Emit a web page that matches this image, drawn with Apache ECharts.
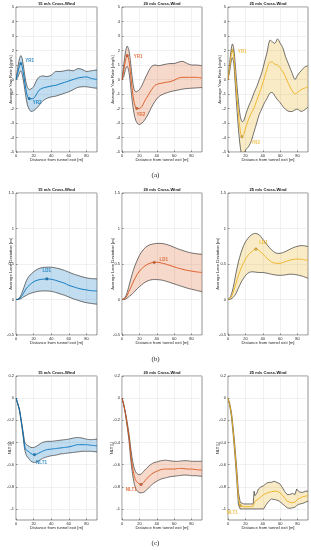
<!DOCTYPE html>
<html><head><meta charset="utf-8">
<script src="https://cdn.jsdelivr.net/npm/echarts@6/dist/echarts.min.js"></script>
<style>html,body{margin:0;padding:0;background:#fff}#c{width:311px;height:550px}</style>
</head><body><div id="c"></div>
<script>
// ---------- text / ticks ----------
const titles = ['15 m/s Cross-Wind', '20 m/s Cross-Wind', '25 m/s Cross-Wind'];
const rowNames = ['Average Yaw Rate [deg/s]', 'Average Lane Deviation [m]', 'NLT [-]'];
const rowLetters = ['(a)', '(b)', '(c)'];
const xName = 'Distance from tunnel exit [m]';
const xTicks = [0, 20, 40, 60, 80];
const yTicksA = [-5, -4, -3, -2, -1, 0, 1, 2, 3, 4, 5];
const yTicksB = [-0.5, 0, 0.5, 1, 1.5];
const yTicksC = [-1, -0.8, -0.6, -0.4, -0.2, 0, 0.2];

// ---------- row (a): yaw rate ----------
const a1X = [0,2,4,5.5,7,9,11,13,15,17,20,23,26,30,35,40,45,50,55,60,65,70,75,80,85,92];
const a1Mean = [0,0.45,0.95,1.1,0.9,0.2,-0.6,-1.15,-1.32,-1.33,-1.3,-1.05,-0.75,-0.6,-0.52,-0.45,-0.4,-0.3,-0.2,-0.1,0.0,0.1,0.15,0.18,0.08,0.0];
const a1Up = [0,0.8,1.45,1.65,1.45,0.7,-0.1,-0.55,-0.7,-0.65,-0.5,-0.1,0.15,0.25,0.2,0.3,0.55,0.55,0.6,0.65,0.6,0.75,0.7,0.55,0.6,0.65];
const a1Lo = [0,0.15,0.45,0.6,0.35,-0.3,-1.1,-1.75,-2.05,-2.2,-2.15,-2.0,-1.8,-1.5,-1.3,-1.2,-1.15,-1.05,-0.95,-0.85,-0.7,-0.55,-0.5,-0.5,-0.55,-0.6];
const a1Marks = [[5.5,1.1],[15,-1.32]];

const a2X = [0,2,4,6,8,10,12,14,16,18,20,23,26,30,34,38,42,46,50,55,60,65,70,75,80,85,92];
const a2Mean = [0,0.6,1.35,1.65,1.3,0.3,-0.8,-1.6,-1.95,-2.0,-2.0,-1.85,-1.5,-1.1,-0.7,-0.4,-0.3,-0.25,-0.2,-0.15,-0.05,0.1,0.15,0.15,0.15,0.15,0.1];
const a2Up = [0,1.0,1.9,2.3,2.0,1.1,0.0,-0.7,-0.85,-0.8,-0.7,-0.4,0.0,0.5,0.9,1.0,0.95,1.0,1.05,1.1,1.1,1.2,1.25,1.1,1.0,1.0,0.95];
const a2Lo = [0,0.2,0.7,0.9,0.5,-0.5,-1.6,-2.4,-2.85,-3.05,-3.1,-3.0,-2.8,-2.4,-1.9,-1.5,-1.2,-1.05,-0.95,-0.85,-0.78,-0.72,-0.66,-0.62,-0.6,-0.58,-0.55];
const a2Marks = [[6,1.65],[17,-2.0]];

const a3X = [0,2,3.5,5,6.5,8,10,12,14,16,18,21,24,27,30,33,36,39,42,45,48,51,54,57,60,63,66,70,74,77,80,84,88,92];
const a3Mean = [0,0.9,1.6,2.0,1.7,0.6,-1.0,-2.4,-3.5,-3.95,-3.8,-3.2,-2.7,-2.3,-1.95,-1.45,-0.95,-0.45,0.15,0.75,1.2,1.2,1.05,1.0,0.8,0.55,0.2,-0.35,-0.8,-1.0,-0.9,-0.7,-0.6,-0.5];
const a3Up = [0,1.2,2.0,2.45,2.2,1.3,-0.2,-1.5,-2.5,-2.9,-2.85,-2.3,-1.8,-1.4,-0.9,-0.5,0.0,0.5,1.2,1.9,2.7,2.6,2.5,2.8,2.5,2.2,1.6,1.0,0.4,0.0,0.3,0.6,0.85,0.95];
const a3Lo = [0,0.6,1.2,1.5,1.2,0.0,-1.8,-3.4,-4.6,-5.2,-5.1,-4.8,-4.6,-4.2,-3.6,-3.0,-2.4,-2.0,-1.6,-1.3,-0.95,-0.9,-1.15,-1.4,-1.6,-1.85,-2.05,-2.2,-2.2,-2.1,-2.05,-2.2,-2.1,-1.9];
const a3Marks = [[5,2.0],[16,-3.95]];
const aMarkNames = ['YR1', 'YR2'];

// ---------- row (b): lane deviation ----------
const bX = [0,3,6,9,12,15,20,25,30,35,40,45,50,55,60,65,70,75,80,85,92];
const b1Mean = [0,0.005,0.04,0.1,0.16,0.2,0.25,0.275,0.285,0.29,0.285,0.27,0.25,0.23,0.2,0.18,0.16,0.145,0.135,0.125,0.12];
const b1Up = [0,0.01,0.07,0.17,0.27,0.33,0.39,0.43,0.45,0.455,0.455,0.445,0.43,0.41,0.385,0.36,0.34,0.32,0.305,0.295,0.29];
const b1Lo = [0,0,0.015,0.04,0.06,0.08,0.1,0.115,0.12,0.12,0.115,0.1,0.08,0.06,0.035,0.01,-0.01,-0.03,-0.045,-0.055,-0.065];
const b1Marks = [[35,0.29]];

const b2Mean = [0,0.01,0.06,0.14,0.22,0.3,0.4,0.46,0.5,0.52,0.525,0.515,0.5,0.48,0.46,0.44,0.425,0.41,0.4,0.39,0.38];
const b2Up = [0,0.02,0.1,0.24,0.37,0.48,0.62,0.71,0.76,0.78,0.79,0.79,0.78,0.76,0.735,0.71,0.69,0.67,0.655,0.645,0.635];
const b2Lo = [0,0,0.02,0.05,0.08,0.12,0.18,0.23,0.265,0.28,0.28,0.275,0.26,0.24,0.22,0.2,0.18,0.16,0.145,0.13,0.11];
const b2Marks = [[37,0.522]];

const b3X = [0,3,6,9,12,15,18,21,25,29,32,36,40,45,50,55,60,65,70,75,80,85,92];
const b3Mean = [0,0.02,0.1,0.22,0.34,0.44,0.52,0.59,0.65,0.69,0.71,0.69,0.64,0.58,0.53,0.51,0.51,0.53,0.55,0.565,0.57,0.565,0.55];
const b3Up = [0,0.04,0.17,0.36,0.53,0.66,0.76,0.83,0.89,0.925,0.93,0.91,0.85,0.77,0.7,0.655,0.65,0.67,0.7,0.73,0.75,0.76,0.745];
const b3Lo = [0,0.005,0.03,0.08,0.16,0.24,0.3,0.35,0.385,0.39,0.385,0.38,0.38,0.37,0.355,0.345,0.34,0.345,0.355,0.355,0.345,0.33,0.3];
const b3Marks = [[32,0.71]];
const bMarkNames = ['LD1'];

// ---------- row (c): NLT ----------
const c1X = [0,2,4,6,8,10,12,14,17,20,22,25,30,35,40,45,50,55,60,65,70,75,80,85,92];
const c1Mean = [0,-0.05,-0.11,-0.21,-0.32,-0.44,-0.47,-0.48,-0.5,-0.51,-0.51,-0.5,-0.48,-0.465,-0.46,-0.455,-0.45,-0.445,-0.44,-0.43,-0.42,-0.42,-0.42,-0.425,-0.43];
const c1Up = [0,-0.05,-0.1,-0.2,-0.3,-0.4,-0.42,-0.43,-0.445,-0.445,-0.44,-0.425,-0.4,-0.39,-0.39,-0.385,-0.38,-0.375,-0.37,-0.36,-0.355,-0.36,-0.37,-0.375,-0.37];
const c1Lo = [0,-0.05,-0.12,-0.22,-0.34,-0.47,-0.52,-0.54,-0.57,-0.58,-0.58,-0.57,-0.545,-0.53,-0.52,-0.515,-0.505,-0.5,-0.495,-0.49,-0.485,-0.48,-0.48,-0.48,-0.485];
const c1Marks = [[21,-0.51]];

const c2X = [0,2,4,6,8,10,12,14,16,19,22,25,28,32,36,40,45,50,55,60,65,70,75,80,85,92];
const c2Mean = [0,-0.06,-0.14,-0.24,-0.35,-0.5,-0.62,-0.7,-0.745,-0.77,-0.78,-0.76,-0.73,-0.7,-0.675,-0.66,-0.645,-0.64,-0.64,-0.64,-0.635,-0.635,-0.64,-0.64,-0.645,-0.65];
const c2Up = [0,-0.06,-0.13,-0.22,-0.32,-0.45,-0.56,-0.63,-0.67,-0.69,-0.685,-0.66,-0.635,-0.605,-0.585,-0.575,-0.565,-0.56,-0.565,-0.57,-0.57,-0.565,-0.565,-0.57,-0.57,-0.57];
const c2Lo = [0,-0.06,-0.15,-0.26,-0.38,-0.55,-0.68,-0.77,-0.82,-0.85,-0.855,-0.85,-0.83,-0.8,-0.77,-0.75,-0.73,-0.72,-0.71,-0.705,-0.7,-0.695,-0.695,-0.7,-0.7,-0.705];
const c2Marks = [[22,-0.78]];

const c3X = [0,2,4,6,8,10,12,14,18,22,26,29,30,31,33,35,38,41,44,47,50,53,56,59,62,65,68,71,74,77,79,81,83,86,89,92];
const c3Mean = [0,-0.06,-0.15,-0.3,-0.48,-0.68,-0.9,-0.97,-0.98,-0.98,-0.98,-0.975,-0.95,-0.93,-0.92,-0.91,-0.89,-0.87,-0.86,-0.85,-0.845,-0.84,-0.84,-0.85,-0.87,-0.9,-0.93,-0.94,-0.945,-0.94,-0.92,-0.905,-0.9,-0.89,-0.885,-0.88];
const c3Up = [0,-0.05,-0.13,-0.27,-0.44,-0.63,-0.85,-0.94,-0.955,-0.955,-0.955,-0.955,-0.84,-0.88,-0.86,-0.82,-0.8,-0.79,-0.77,-0.76,-0.76,-0.75,-0.76,-0.77,-0.8,-0.84,-0.87,-0.87,-0.86,-0.87,-0.82,-0.84,-0.85,-0.85,-0.84,-0.84];
const c3Lo = [0,-0.07,-0.17,-0.33,-0.52,-0.73,-0.96,-1.0,-1.0,-1.0,-1.0,-1.0,-1.0,-1.0,-1.0,-1.0,-1.0,-1.0,-0.96,-0.93,-0.91,-0.915,-0.92,-0.93,-0.95,-0.97,-0.99,-0.995,-0.99,-0.985,-0.97,-0.96,-0.955,-0.95,-0.94,-0.93];
const c3Marks = [[14,-0.97]];
const cMarkNames = ['NLT1'];

// ---------- layout / style ----------
const FONT = 'Liberation Sans, Arial, sans-serif';
const TXT = '#262626';
const colLeft = [16, 122, 228], colW = [81, 80, 80];
const rowTop = [7, 193, 376], rowH = [145, 142, 144];
const yRange = [[-5, 5], [-0.5, 1.5], [-1.1, 0.2]];
const yTicks = [yTicksA, yTicksB, yTicksC];
const yNameGap = [[3, 7, 6], [3, 7, 8], [4, 8, 8]];
const lineColors = ['#0072BD', '#D95319', '#EDB120'];
const fillColors = ['rgba(0,114,189,0.24)', 'rgba(217,83,25,0.22)', 'rgba(237,177,32,0.25)'];
const xMax = 92;

const panels = [
  {x:a1X, m:a1Mean, u:a1Up, l:a1Lo, mk:a1Marks, names:aMarkNames, sm:0.3},
  {x:a2X, m:a2Mean, u:a2Up, l:a2Lo, mk:a2Marks, names:aMarkNames, sm:0.3},
  {x:a3X, m:a3Mean, u:a3Up, l:a3Lo, mk:a3Marks, names:aMarkNames, sm:0.3},
  {x:bX, m:b1Mean, u:b1Up, l:b1Lo, mk:b1Marks, names:bMarkNames, sm:0.3},
  {x:bX, m:b2Mean, u:b2Up, l:b2Lo, mk:b2Marks, names:bMarkNames, sm:0.3},
  {x:b3X, m:b3Mean, u:b3Up, l:b3Lo, mk:b3Marks, names:bMarkNames, sm:0.3},
  {x:c1X, m:c1Mean, u:c1Up, l:c1Lo, mk:c1Marks, names:cMarkNames, sm:0.2},
  {x:c2X, m:c2Mean, u:c2Up, l:c2Lo, mk:c2Marks, names:cMarkNames, sm:0.2},
  {x:c3X, m:c3Mean, u:c3Up, l:c3Lo, mk:c3Marks, names:cMarkNames, sm:0}
];
// label placement for marker annotations [position, distance, offset]
const markLabelStyle = [
  [['right',3,[0,-3]], ['right',2,[0,4]]],
  [['right',5,[0,1]], ['bottom',2,[4,0]]],
  [['right',4,[0,1]], ['right',8,[0,6]]],
  [['top',4,[0,0]]],
  [['right',4,[0,-3]]],
  [['right',2,[0,-6]]],
  [['bottom',2,[7,2]]],
  [['left',3,[0,5]]],
  [['left',1,[0,7]]]
];

const grids = [], xAxes = [], yAxes = [], series = [], graphics = [];

function bandSeries(i, p, fill) {
  return {
    type: 'custom', xAxisIndex: i, yAxisIndex: i, silent: true, z: 2,
    data: [[p.x[0], p.u[0]]],
    renderItem: function (params, api) {
      const top = p.x.map((x, k) => api.coord([x, p.u[k]]));
      const bot = p.x.map((x, k) => api.coord([x, p.l[k]]));
      const botRev = bot.slice().reverse();
      if (p.u[0] === p.l[0]) botRev.pop();
      const cs = params.coordSys;
      const smooth = p.sm;
      return {
        type: 'group',
        clipPath: { type: 'rect', shape: { x: cs.x, y: cs.y, width: cs.width, height: cs.height } },
        children: [
          { type: 'polygon', shape: { points: top.concat(botRev), smooth: smooth }, style: { fill: fill, stroke: null } },
          { type: 'polyline', shape: { points: top, smooth: smooth }, style: { stroke: '#383838', lineWidth: 0.7, fill: null } },
          { type: 'polyline', shape: { points: bot, smooth: smooth }, style: { stroke: '#383838', lineWidth: 0.7, fill: null } }
        ]
      };
    }
  };
}

for (let r = 0; r < 3; r++) {
  for (let c = 0; c < 3; c++) {
    const i = r * 3 + c;
    const p = panels[i];
    grids.push({ left: colLeft[c], top: rowTop[r], width: colW[c], height: rowH[r], show: true,
      borderColor: TXT, borderWidth: 0.5, backgroundColor: 'transparent', containLabel: false, outerBoundsMode: 'none' });
    xAxes.push({
      type: 'value', gridIndex: i, min: 0, max: xMax,
      name: xName, nameLocation: 'middle', nameGap: 6, nameMoveOverlap: false,
      nameTextStyle: { fontSize: 4.2, color: TXT, fontFamily: FONT },
      axisLine: { show: false, onZero: false },
      axisTick: { show: true, inside: true, length: 1.5, customValues: xTicks, lineStyle: { color: TXT, width: 0.5 } },
      axisLabel: { customValues: xTicks, fontSize: 4, color: TXT, margin: 2, fontFamily: FONT },
      splitLine: { show: true, lineStyle: { color: '#e2e2e2', width: 0.5 } }
    });
    yAxes.push({
      type: 'value', gridIndex: i, min: yRange[r][0], max: yRange[r][1],
      name: rowNames[r], nameLocation: 'middle', nameGap: yNameGap[r][c], nameRotate: 90, nameMoveOverlap: false,
      nameTextStyle: { fontSize: 4.2, color: TXT, fontFamily: FONT },
      axisLine: { show: false, onZero: false },
      axisTick: { show: true, inside: true, length: 1.5, customValues: yTicks[r], lineStyle: { color: TXT, width: 0.5 } },
      axisLabel: { customValues: yTicks[r], fontSize: 4, color: TXT, margin: 2, fontFamily: FONT },
      splitLine: { show: true, lineStyle: { color: '#e2e2e2', width: 0.5 } }
    });
    series.push(bandSeries(i, p, fillColors[c]));
    series.push({
      type: 'line', xAxisIndex: i, yAxisIndex: i, z: 3, silent: true,
      data: p.x.map((x, k) => [x, p.m[k]]),
      smooth: p.sm, showSymbol: false, clip: true,
      lineStyle: { color: lineColors[c], width: 0.9 }
    });
    series.push({
      type: 'scatter', xAxisIndex: i, yAxisIndex: i, z: 4, silent: true,
      symbolSize: 2.6,
      itemStyle: { color: lineColors[c], borderColor: '#333', borderWidth: 0.3 },
      data: p.mk.map((v, k) => ({
        value: v, name: p.names[k],
        label: { show: true, formatter: '{b}', position: markLabelStyle[i][k][0], distance: markLabelStyle[i][k][1],
          offset: markLabelStyle[i][k][2], color: lineColors[c], fontSize: 4.5, fontWeight: 'bold', fontFamily: FONT }
      }))
    });
    graphics.push({
      type: 'text', x: colLeft[c] + colW[c] / 2, y: rowTop[r] - 3.5, silent: true,
      style: { text: titles[c], fill: '#111', fontSize: 4.1, fontWeight: 'bold', fontFamily: FONT,
        align: 'center', verticalAlign: 'middle' }
    });
  }
}
const letterY = [175, 359, 543];
for (let r = 0; r < 3; r++) {
  graphics.push({
    type: 'text', x: 155.5, y: letterY[r], silent: true,
    style: { text: rowLetters[r], fill: '#222', fontSize: 7, fontFamily: 'Liberation Serif, serif',
      align: 'center', verticalAlign: 'middle' }
  });
}

const chart = echarts.init(document.getElementById('c'), null, { renderer: 'canvas', width: 311, height: 550 });
chart.setOption({
  animation: false,
  backgroundColor: '#ffffff',
  grid: grids, xAxis: xAxes, yAxis: yAxes, series: series, graphic: graphics
});
</script>
</body></html>
